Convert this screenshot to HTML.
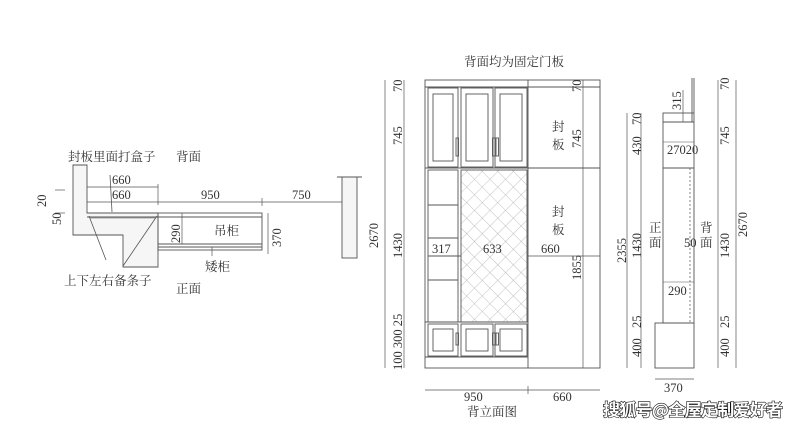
<!DOCTYPE html>
<html><head><meta charset="utf-8"><style>
body{margin:0;background:#fff;}
svg{display:block}
text{font-family:"Liberation Serif","Noto Serif CJK SC",serif;fill:#333;font-size:12.5px}
.c{font-family:"Liberation Serif","Noto Serif CJK SC",serif;}
</style></head><body>
<svg width="800" height="428" viewBox="0 0 800 428" xmlns="http://www.w3.org/2000/svg">
<defs>
<pattern id="mesh" width="11" height="11" patternUnits="userSpaceOnUse" patternTransform="rotate(45)">
<path d="M0 0H11M0 0V11" stroke="#aaa" stroke-width="0.7" fill="none"/>
</pattern>
</defs>
<g stroke="#555" stroke-width="0.9" fill="none">
<!-- left plan -->
<polygon points="73,165 87,165 87,213 158,213 158,267 123,267 123,235 73,235" fill="#f6f6f6"/>
<line x1="87" y1="217" x2="158" y2="217"/>
<line x1="90" y1="218" x2="155" y2="218" stroke-width="0.6"/>
<line x1="157" y1="216" x2="123" y2="266" stroke-width="0.8"/>
<line x1="89" y1="216" x2="106" y2="260" stroke-width="0.8"/>
<line x1="110" y1="175" x2="112" y2="212" stroke-width="0.8"/>
<rect x="158" y="213" width="104" height="37"/>
<line x1="158" y1="217" x2="262" y2="217"/>
<line x1="158" y1="244" x2="262" y2="244"/>
<line x1="158" y1="247" x2="262" y2="247"/>
<line x1="182" y1="213" x2="182" y2="244" stroke-width="0.7"/>
<line x1="212" y1="247" x2="212" y2="256" stroke-width="0.7"/>
<line x1="268" y1="213" x2="268" y2="254" stroke-width="0.7"/>
<rect x="342" y="177" width="15" height="81" fill="#f6f6f6"/>
<line x1="337" y1="177" x2="362" y2="177"/>
<line x1="87" y1="187" x2="158" y2="187" stroke-width="0.7"/>
<line x1="87" y1="202" x2="342" y2="202" stroke-width="0.7"/>
<line x1="158" y1="184" x2="158" y2="205" stroke-width="0.7"/>
<line x1="262" y1="198" x2="262" y2="206" stroke-width="0.7"/>
<line x1="55" y1="190" x2="65" y2="190" stroke-width="0.7"/>
<line x1="55" y1="213" x2="65" y2="213" stroke-width="0.7"/>

<!-- middle elevation -->
<line x1="385" y1="80" x2="385" y2="368" stroke-width="0.7"/>
<line x1="404" y1="80" x2="404" y2="368" stroke-width="0.7"/>
<rect x="425" y="80" width="175" height="288"/>
<line x1="425" y1="87" x2="600" y2="87"/>
<line x1="528" y1="80" x2="528" y2="368"/>
<line x1="583" y1="80" x2="583" y2="368" stroke-width="0.7"/>
<line x1="425" y1="168" x2="600" y2="168"/>
<line x1="528" y1="256" x2="600" y2="256" stroke-width="0.7"/>
<line x1="425" y1="357" x2="528" y2="357"/>
<!-- upper doors -->
<rect x="428" y="88" width="30" height="79"/><rect x="433" y="94" width="20" height="67"/>
<rect x="461" y="88" width="32" height="79"/><rect x="466" y="94" width="22" height="67"/>
<rect x="495" y="88" width="32" height="79"/><rect x="500" y="94" width="22" height="67"/>
<rect x="456" y="138" width="2.5" height="18"/><rect x="492.5" y="138" width="2.5" height="18"/><rect x="496" y="138" width="2.5" height="18"/>
<!-- shelves -->
<rect x="428" y="170" width="30" height="152"/>
<line x1="428" y1="205" x2="458" y2="205"/><line x1="428" y1="238" x2="458" y2="238"/>
<line x1="428" y1="256" x2="461" y2="256"/><line x1="428" y1="280" x2="458" y2="280"/>
<rect x="461" y="170" width="66" height="152" fill="url(#mesh)"/>
<line x1="425" y1="322" x2="528" y2="322"/>
<!-- lower doors -->
<rect x="428" y="324" width="30" height="32"/><rect x="433" y="329" width="20" height="22"/>
<rect x="461" y="324" width="32" height="32"/><rect x="466" y="329" width="22" height="22"/>
<rect x="495" y="324" width="32" height="32"/><rect x="500" y="329" width="22" height="22"/>
<rect x="456" y="333" width="2.5" height="12"/><rect x="492.5" y="333" width="2.5" height="12"/><rect x="496" y="333" width="2.5" height="12"/>
<line x1="425" y1="390" x2="600" y2="390" stroke-width="0.7"/>
<line x1="528" y1="386" x2="528" y2="394" stroke-width="0.7"/>

<!-- right section -->
<line x1="627" y1="113" x2="627" y2="368" stroke-width="0.7"/>
<line x1="641" y1="113" x2="641" y2="368" stroke-width="0.7"/>
<line x1="718" y1="80" x2="718" y2="368" stroke-width="0.7"/>
<line x1="736" y1="80" x2="736" y2="368" stroke-width="0.7"/>
<rect x="663" y="113" width="31" height="210"/>
<line x1="663" y1="122" x2="694" y2="122"/>
<line x1="663" y1="168" x2="694" y2="168"/>
<line x1="692" y1="78" x2="692" y2="122"/><line x1="694" y1="78" x2="694" y2="113"/>
<line x1="683" y1="90" x2="683" y2="122" stroke-width="0.7"/>
<line x1="690" y1="168" x2="690" y2="323" stroke-dasharray="2,2" stroke-width="0.7"/>
<rect x="655" y="323" width="39" height="45"/>
<line x1="663" y1="142" x2="694" y2="142" stroke-width="0.6"/>
<line x1="663" y1="282" x2="694" y2="282" stroke-width="0.6"/>
<line x1="655" y1="379" x2="694" y2="379" stroke-width="0.7"/>
</g>
<!-- text -->
<text x="68" y="161" class="c">封板里面打盒子</text>
<text x="176" y="161" class="c">背面</text>
<text x="112" y="184">660</text>
<text x="112" y="199">660</text>
<text x="201" y="199">950</text>
<text x="292" y="199">750</text>
<text transform="translate(46,207) rotate(-90)">20</text>
<text transform="translate(61,225) rotate(-90)">50</text>
<text transform="translate(180,243) rotate(-90)">290</text>
<text x="214" y="235" class="c">吊柜</text>
<text transform="translate(281,247) rotate(-90)">370</text>
<text x="205" y="271" class="c">矮柜</text>
<text x="64" y="285" class="c">上下左右备条子</text>
<text x="176" y="293" class="c">正面</text>
<text transform="translate(378,248) rotate(-90)">2670</text>

<text x="464" y="66" class="c">背面均为固定门板</text>
<text transform="translate(402,92) rotate(-90)">70</text>
<text transform="translate(402,145) rotate(-90)">745</text>
<text transform="translate(402,258) rotate(-90)">1430</text>
<text transform="translate(402,370) rotate(-90)">100 300 25</text>
<text x="552" y="131" class="c">封</text>
<text x="552" y="149" class="c">板</text>
<text x="552" y="216" class="c">封</text>
<text x="552" y="234" class="c">板</text>
<text transform="translate(581,92) rotate(-90)">70</text>
<text transform="translate(581,148) rotate(-90)">745</text>
<text transform="translate(581,280) rotate(-90)">1855</text>
<text x="432" y="253">317</text>
<text x="483" y="253">633</text>
<text x="541" y="253">660</text>
<text x="464" y="401">950</text>
<text x="553" y="401">660</text>
<text x="467" y="416" class="c">背立面图</text>

<text transform="translate(626,263) rotate(-90)">2355</text>
<text transform="translate(641,125) rotate(-90)">70</text>
<text transform="translate(641,155) rotate(-90)">430</text>
<text transform="translate(641,258) rotate(-90)">1430</text>
<text transform="translate(641,328) rotate(-90)">25</text>
<text transform="translate(641,357) rotate(-90)">400</text>
<text transform="translate(681,110) rotate(-90)">315</text>
<text x="667" y="154">27020</text>
<text x="649" y="232" class="c">正</text>
<text x="649" y="247" class="c">面</text>
<text x="700" y="232" class="c">背</text>
<text x="700" y="247" class="c">面</text>
<text x="684" y="247">50</text>
<text x="668" y="295">290</text>
<text transform="translate(729,90) rotate(-90)">70</text>
<text transform="translate(729,145) rotate(-90)">745</text>
<text transform="translate(729,258) rotate(-90)">1430</text>
<text transform="translate(729,328) rotate(-90)">25</text>
<text transform="translate(729,357) rotate(-90)">400</text>
<text transform="translate(747,237) rotate(-90)">2670</text>
<text x="664" y="392">370</text>
<text x="603" y="416" textLength="180" style="font-family:'Noto Sans CJK SC',sans-serif;font-size:17px;font-weight:bold;fill:#fff;stroke:#111;stroke-width:1.2px;paint-order:stroke">搜狐号@全屋定制爱好者</text>
</svg>
</body></html>
